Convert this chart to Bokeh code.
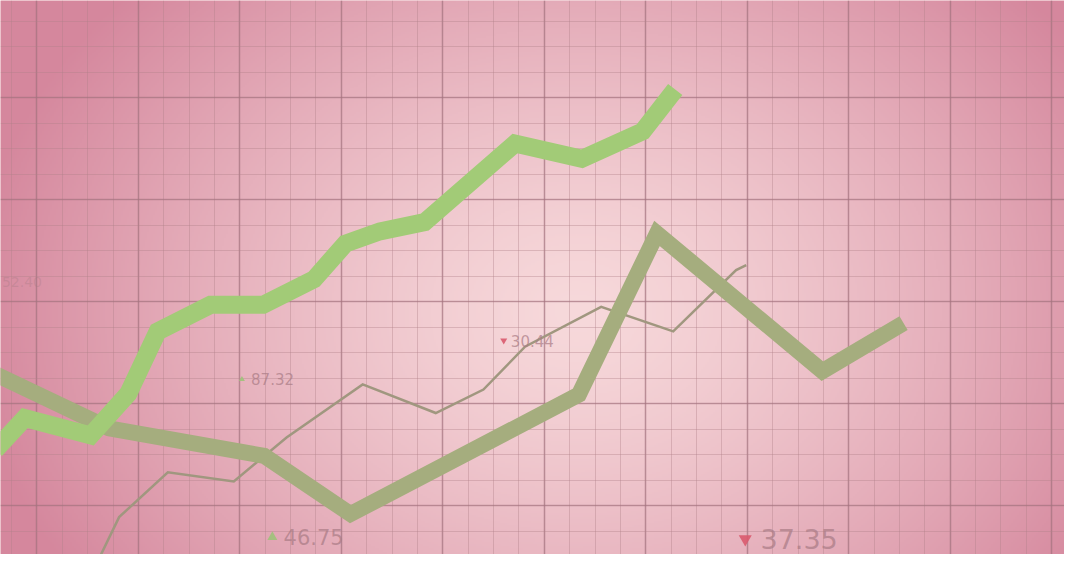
import numpy as np
from bokeh.plotting import figure
from bokeh.models import FixedTicker, Range1d
from bokeh.core.properties import value
from bokeh.embed import file_html
from bokeh.resources import INLINE

# ---------------- data ----------------
# thick bright green series
green_x = [-1.41, -1.12, -0.47, -0.10, 0.19, 0.71, 1.23, 1.73, 2.04, 2.38, 2.82, 3.71, 4.37, 4.97, 5.29]
green_y = [10.5, 13.6, 11.9, 16.0, 22.1, 24.7, 24.7, 27.2, 30.7, 31.9, 32.8, 40.5, 39.0, 41.7, 45.8]

# thick olive series
olive_x = [-1.41, -0.29, 1.24, 2.09, 4.34, 5.11, 6.74, 7.54]
olive_y = [17.9, 12.6, 9.9, 4.2, 15.9, 31.7, 18.2, 22.9]

# thin grey-brown series
thin_x = [-0.39, -0.19, 0.29, 0.94, 1.46, 2.21, 2.93, 3.40, 3.81, 4.56, 5.27, 5.89, 5.99]
thin_y = [-0.2, 3.9, 8.3, 7.4, 11.7, 16.9, 14.1, 16.4, 20.6, 24.5, 22.1, 28.1, 28.6]

# floating value tags
tag_text = ["87.32", "30.44", "46.75", "37.35"]
tag_x = [1.11, 3.67, 1.43, 6.13]
tag_y = [17.4, 21.2, 1.95, 1.75]
tag_size = ["15px", "15px", "21px", "27px"]
tag_up = [True, False, True, False]
mark_x = [1.02, 3.60, 1.32, 5.98]

# partially visible tag at the left edge
edge_text = ["52.40"]
edge_x = [-1.345]
edge_y = [26.9]

# grid ticks
x_major = list(range(-1, 10))
y_major = [5, 15, 25, 35, 45, 55]

# ---------------- figure ----------------
W, H = 1064, 554
x0, x1 = -1.359, 9.126
y0, y1 = 0.238, 54.52

p = figure(width=W, height=H, output_backend="svg", toolbar_location=None,
           x_range=Range1d(x0, x1), y_range=Range1d(y0, y1),
           min_border=0, min_border_left=0, min_border_right=0,
           min_border_top=0, min_border_bottom=0)
p.outline_line_color = None
p.background_fill_color = "#eab4bc"
p.border_fill_color = "#eab4bc"
p.axis.visible = False

# radial background glow
gw, gh = 540, 285
xs = np.linspace(0, 1080, gw)
ys = np.linspace(570, 0, gh)  # row 0 = bottom
X, Y = np.meshgrid(xs, ys)
t = np.sqrt(((X - 585) / 620.0) ** 2 + ((Y - 320) / 490.0) ** 2)
t = np.clip(t, 0, 1) ** 1.35
light = np.array([247, 217, 219])
dark = np.array([213, 135, 157])
rgb = light[None, None, :] + (dark - light)[None, None, :] * t[:, :, None]
rgb = rgb.astype(np.uint32)
img = np.empty((gh, gw), dtype=np.uint32)
view = img.view(dtype=np.uint8).reshape((gh, gw, 4))
view[:, :, 0] = rgb[:, :, 0]
view[:, :, 1] = rgb[:, :, 1]
view[:, :, 2] = rgb[:, :, 2]
view[:, :, 3] = 255
p.image_rgba(image=[img], x=x0, y=y0, dw=x1 - x0, dh=y1 - y0, level="image")

# grid
p.xgrid.ticker = FixedTicker(ticks=x_major,
                             minor_ticks=[v / 4 for v in range(-8, 40)])
p.ygrid.ticker = FixedTicker(ticks=y_major,
                             minor_ticks=[v * 2.5 for v in range(0, 24)])
for g in (p.xgrid, p.ygrid):
    g.grid_line_color = "#a06f7b"
    g.grid_line_alpha = 0.55
    g.grid_line_width = 1.6
    g.minor_grid_line_color = "#b0808a"
    g.minor_grid_line_alpha = 0.38
    g.minor_grid_line_width = 1.0

# lines
p.line(thin_x, thin_y, line_color="#a0977f", line_width=2.5, line_join="miter")
p.line(olive_x, olive_y, line_color="#a5ad7e", line_width=16, line_join="miter")
p.line(green_x, green_y, line_color="#a2cb77", line_width=18, line_join="miter")

# tags
up_x = [mx for mx, u in zip(mark_x, tag_up) if u]
up_y = [ty for ty, u in zip(tag_y, tag_up) if u]
dn_x = [mx for mx, u in zip(mark_x, tag_up) if not u]
dn_y = [ty for ty, u in zip(tag_y, tag_up) if not u]
up_s = [6, 10][:len(up_x)]
dn_s = [7, 13][:len(dn_x)]
p.scatter(up_x, up_y, marker="triangle", size=up_s, fill_color="#9fc27a",
          line_color=None, fill_alpha=0.9)
p.scatter(dn_x, dn_y, marker="inverted_triangle", size=dn_s, fill_color="#d95a6e",
          line_color=None, fill_alpha=0.9)

for txt, tx, ty, sz in zip(tag_text, tag_x, tag_y, tag_size):
    p.text([tx], [ty], text=[txt], text_font=value("DejaVu Sans"),
           text_font_size=sz, text_color="#a87a84", text_alpha=0.7,
           text_align="left", text_baseline="middle")

p.text(edge_x, edge_y, text=edge_text, text_font=value("DejaVu Sans"),
       text_font_size="14px", text_color="#a87a84", text_alpha=0.35,
       text_align="left", text_baseline="middle")

open("out.html", "w").write(file_html(p, INLINE))
